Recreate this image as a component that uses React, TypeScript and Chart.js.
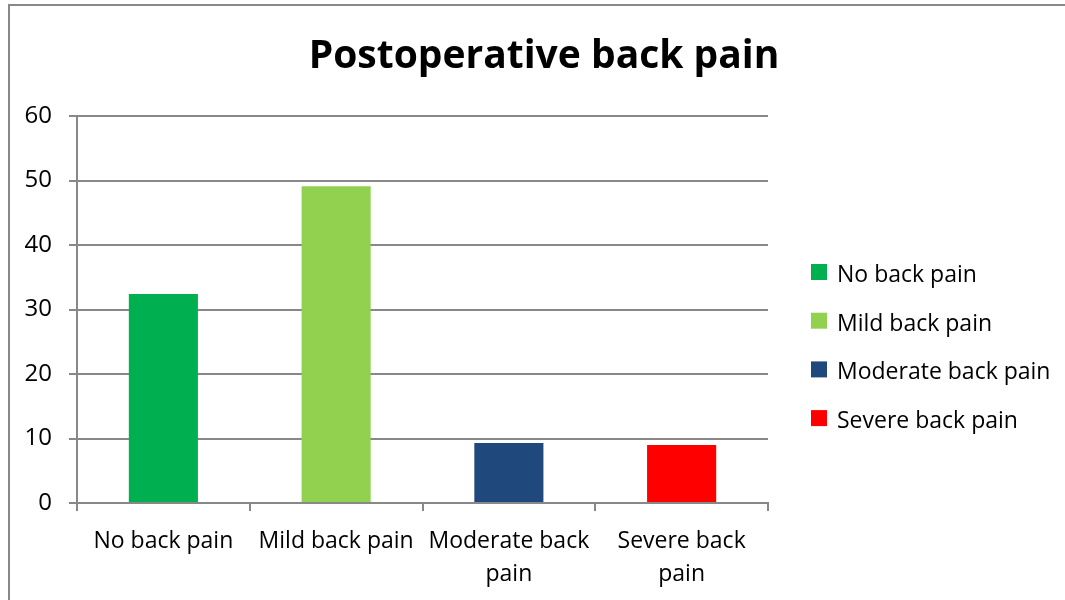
import React, { useEffect, useRef } from "react";
import { Chart, registerables } from "chart.js";

Chart.register(...registerables);

const chartTitle = "Postoperative back pain";
const categories = ["No back pain", "Mild back pain", "Moderate back pain", "Severe back pain"];
const xTickLabels = [["No back pain"], ["Mild back pain"], ["Moderate back", "pain"], ["Severe back", "pain"]];
const values = [32.4, 49.1, 9.3, 9.0];
const barColors = ["#00B050", "#92D050", "#1F497D", "#FF0000"];
const yMin = 0;
const yMax = 60;
const yStep = 10;

const FONT = "'Open Sans', 'DejaVu Sans', sans-serif";
const GRID = "#888888";

const decorPlugin = {
  id: "decor",
  beforeDraw(chart: any) {
    const ctx = chart.ctx;
    ctx.save();
    ctx.fillStyle = "#ffffff";
    ctx.fillRect(0, 0, chart.width, chart.height);
    ctx.strokeStyle = GRID;
    ctx.lineWidth = 2;
    ctx.strokeRect(9, 5, chart.width + 40, chart.height + 40);
    ctx.restore();
  },
  afterDraw(chart: any) {
    const ctx = chart.ctx;
    const area = chart.chartArea;
    ctx.save();
    // title
    ctx.fillStyle = "#000000";
    ctx.font = `bold 39px ${FONT}`;
    ctx.textAlign = "center";
    ctx.textBaseline = "alphabetic";
    ctx.fillText(chartTitle, 544, 68);
    // legend
    const ds = chart.data.datasets[0];
    const labels = chart.data.labels as string[];
    ctx.font = `23px ${FONT}`;
    ctx.textAlign = "left";
    labels.forEach((lab: string, i: number) => {
      const top = area.top + 148 + i * 48.7;
      ctx.fillStyle = (ds.backgroundColor as string[])[i];
      ctx.fillRect(area.right + 43, top, 16, 16);
      ctx.fillStyle = "#000000";
      ctx.fillText(lab, area.right + 69, top + 18);
    });
    ctx.restore();
  },
};

export default function App() {
  const ref = useRef<HTMLCanvasElement | null>(null);
  useEffect(() => {
    if (!ref.current) return;
    const chart = new Chart(ref.current, {
      type: "bar",
      data: {
        labels: categories,
        datasets: [
          {
            label: chartTitle,
            data: values,
            backgroundColor: barColors,
            borderWidth: 0,
            barPercentage: 0.4,
            categoryPercentage: 1,
          },
        ],
      },
      options: {
        responsive: false,
        animation: false,
        devicePixelRatio: 1,
        layout: { padding: { left: 0, right: 297, top: 116, bottom: 0 } },
        plugins: {
          legend: { display: false },
          title: { display: false },
          tooltip: { enabled: false },
        },
        scales: {
          x: {
            offset: true,
            grid: {
              display: true,
              drawOnChartArea: false,
              drawTicks: true,
              tickLength: 8,
              color: GRID,
              lineWidth: 2,
              offset: true,
            },
            border: { display: true, color: GRID, width: 2 },
            ticks: {
              color: "#000000",
              font: { family: FONT, size: 23, lineHeight: 1.43 },
              padding: 14,
              autoSkip: false,
              maxRotation: 0,
              minRotation: 0,
              callback: (_v: any, i: number) => xTickLabels[i],
            },
            afterFit: (s: any) => {
              s.height = 97;
            },
          },
          y: {
            min: yMin,
            max: yMax,
            grid: {
              color: GRID,
              lineWidth: 2,
              drawTicks: true,
              tickLength: 8,
            },
            border: { display: true, color: GRID, width: 2 },
            ticks: {
              stepSize: yStep,
              color: "#000000",
              font: { family: FONT, size: 24 },
              padding: 17,
            },
            afterFit: (s: any) => {
              s.width = 77;
            },
          },
        },
      },
      plugins: [decorPlugin],
    });
    return () => chart.destroy();
  }, []);
  return (
    <div style={{ position: "fixed", left: 0, top: 0, width: 1065, height: 600, overflow: "hidden", background: "#fff" }}>
      <canvas ref={ref} width={1065} height={600} style={{ display: "block", width: 1065, height: 600 }} />
    </div>
  );
}
